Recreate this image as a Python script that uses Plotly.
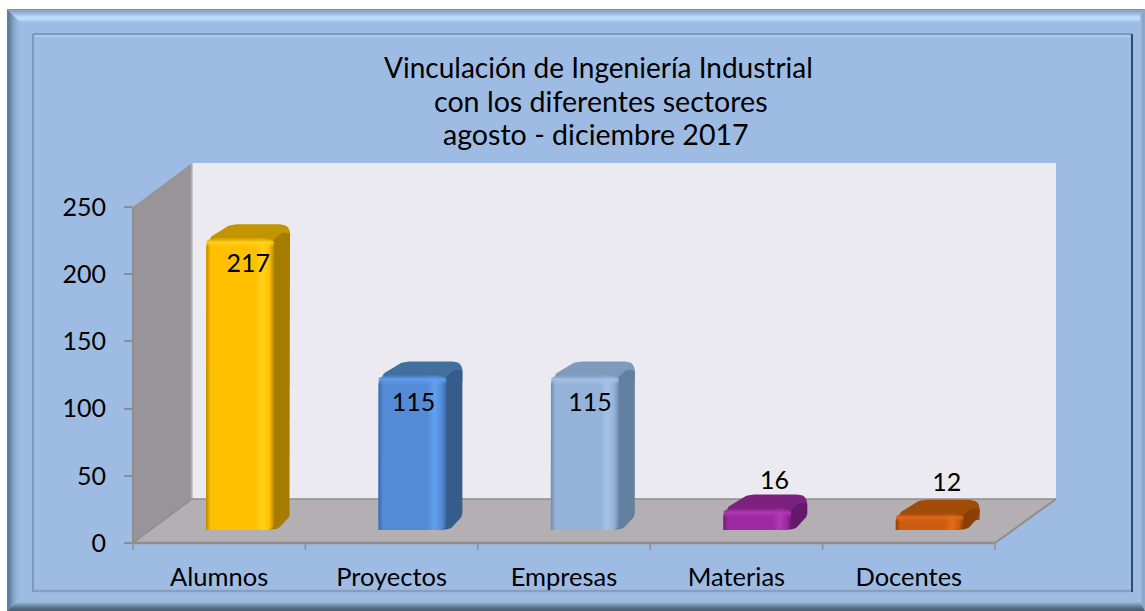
import plotly.graph_objects as go

CATEGORIES = ["Alumnos", "Proyectos", "Empresas", "Materias", "Docentes"]
VALUES = [217, 115, 115, 16, 12]
Y_TICKS = [0, 50, 100, 150, 200, 250]
TITLE_LINES = ["Vinculación de Ingeniería Industrial", "con los diferentes sectores", "agosto - diciembre 2017"]
TITLE_POS = [(598, 67, 28), (601, 101, 28.6), (596, 134, 28.6)]
FRONT = ["#FFC000", "#548BD7", "#95B3D9", "#9C2AA0", "#CC5C10"]
HILITE = ["#FFD21A", "#63A0EE", "#A5C2E6", "#B338B8", "#E26C18"]
SHADE = ["#B88A00", "#3A6AA6", "#6E8BB0", "#701C75", "#8F4008"]
TOPFACE = ["#C29500", "#41709F", "#7E9ABD", "#7C2180", "#A04B08"]
SIDEFACE = ["#A67C00", "#365C8B", "#64809F", "#641A68", "#8A3F05"]
LABEL_DX = [29, 22, 26, 38, 38]
LABEL_DY = [-27, -29, -29, 26, 29]

W, H = 1145, 611
PL, PR, PT, PB = 133, 1056, 163, 543   # plot area in pixels
CAT_PX = 172.4
UNIT_PX = 1.344
BASE_PX = 13
BAR_LEFT = 73
BAR_W = 68
DX, DY = 16, 14


def xpx(p):
    return -0.5 + (p - PL) / CAT_PX


def xp(p):
    return p / W


def yp(p):
    return 1 - p / H


def rounded(points):
    """points: (x_px, y_px, radius) with y measured upward; returns smoothed outline."""
    out = []
    n = len(points)
    for k, (x, y, r) in enumerate(points):
        if r == 0:
            out.append((x, y))
            continue
        px, py, _ = points[k - 1]
        nx, ny, _ = points[(k + 1) % n]
        d1 = max(((px - x) ** 2 + (py - y) ** 2) ** 0.5, 1e-6)
        d2 = max(((nx - x) ** 2 + (ny - y) ** 2) ** 0.5, 1e-6)
        a = (x + (px - x) * min(r, d1 / 2) / d1, y + (py - y) * min(r, d1 / 2) / d1)
        b = (x + (nx - x) * min(r, d2 / 2) / d2, y + (ny - y) * min(r, d2 / 2) / d2)
        for s in range(7):
            t = s / 6
            out.append(((1 - t) ** 2 * a[0] + 2 * t * (1 - t) * x + t * t * b[0],
                        (1 - t) ** 2 * a[1] + 2 * t * (1 - t) * y + t * t * b[1]))
    out.append(out[0])
    return out


def poly(points, color=None, gradient=None):
    pts = rounded(points)
    kw = dict(x=[xpx(p[0]) for p in pts], y=[p[1] / UNIT_PX for p in pts], mode="lines",
              line=dict(width=0, color="rgba(0,0,0,0)"), fill="toself", hoverinfo="skip", showlegend=False)
    if gradient:
        kw["fillgradient"] = gradient
    else:
        kw["fillcolor"] = color
    return go.Scatter(**kw)


def rgba(h, a):
    return f"rgba({int(h[1:3],16)},{int(h[3:5],16)},{int(h[5:7],16)},{a})"


fig = go.Figure()

# front faces
fig.add_trace(go.Bar(
    x=list(range(5)), y=VALUES, base=BASE_PX / UNIT_PX, width=BAR_W / CAT_PX,
    offset=[(BAR_LEFT - CAT_PX / 2) / CAT_PX] * 5,
    marker=dict(color=FRONT, line=dict(width=0), cornerradius=10),
    showlegend=False, hoverinfo="skip"))

# extruded top / side and bevel shading, all derived from the values
for i, v in enumerate(VALUES):
    L = PL + i * CAT_PX + BAR_LEFT
    R = L + BAR_W
    B = BASE_PX
    T = B + v * UNIT_PX
    fig.add_trace(poly([(L + 1, T - 1, 7), (L + 24, T + DY, 7), (R + DX, T + DY, 10), (R + DX, T - 6, 0), (R - 3, T - 9, 0)], TOPFACE[i]))
    fig.add_trace(poly([(R - 4, T - 5, 3), (R + 8, T + 6, 3), (R + DX, T + 5, 0), (R + DX, B + DY, 3), (R + 4, B + 1, 3), (R - 8, B, 0)], SIDEFACE[i]))
    fig.add_trace(poly(
        [(L, B, 0), (L, T, 10), (R, T, 10), (R, B, 7)],
        gradient=dict(type="horizontal", colorscale=[
            [0, SHADE[i]], [0.07, FRONT[i]], [0.72, FRONT[i]], [0.83, HILITE[i]],
            [0.93, FRONT[i]], [1, SHADE[i]]])))
    h = min(9, (T - B) / 2)
    fig.add_trace(poly(
        [(L, T - h, 0), (L, T, 10), (R, T, 10), (R, T - h, 0)],
        gradient=dict(type="vertical", colorscale=[
            [0, rgba(HILITE[i], 0)], [0.6, rgba(HILITE[i], 0.9)], [1, rgba(SHADE[i], 0.55)]])))

# value labels
fig.add_trace(go.Scatter(
    x=[i + LABEL_DX[i] / CAT_PX for i in range(5)],
    y=[v + (BASE_PX + LABEL_DY[i]) / UNIT_PX for i, v in enumerate(VALUES)],
    mode="text", text=[str(v) for v in VALUES], textposition="middle center",
    textfont=dict(family="Lato", size=25, color="#000000"), hoverinfo="skip", showlegend=False))

shapes = []


def path(pts, fill, line=None, lw=0, layer="below"):
    d = "M " + " L ".join(f"{xp(x):.5f},{yp(y):.5f}" for x, y in pts) + " Z"
    shapes.append(dict(type="path", xref="paper", yref="paper", path=d, fillcolor=fill, layer=layer,
                       line=dict(width=lw, color=line or "rgba(0,0,0,0)")))


def seg(x0, y0, x1, y1, color, w=2):
    shapes.append(dict(type="line", xref="paper", yref="paper", x0=xp(x0), y0=yp(y0), x1=xp(x1), y1=yp(y1),
                       line=dict(color=color, width=w), layer="below"))


# outer frame
OX0, OY0, OX1, OY1 = 7, 9, 1145, 611
path([(OX0, OY0), (OX1, OY0), (OX1, OY1), (OX0, OY1)], "#9EBCE3")
LEFT = ["#7D7D80", "#5F7E9F", "#64839F", "#6B8BAD", "#7492B5", "#7C9ABE", "#83A2C6", "#89A9CE",
        "#8EAFD4", "#92B3D9", "#96B7DC", "#99B9DF", "#9BBBE1", "#9CBBE2", "#9DBCE3", "#9EBCE3"]
TOP = ["#8C8C8C", "#8FA4BF", "#8DA8CA", "#93AFD3", "#9BB8DC", "#A5C2E6", "#AFCBEF", "#B8D4F6",
       "#BEDAFB", "#C0DCFC", "#BAD6F7", "#B0CCEE", "#A8C4E8", "#A2BFE5", "#9FBDE3", "#9EBCE3"]
BOT = ["#9EBCE3", "#95B1D6", "#8AA5C8", "#7F99BA", "#738CAB", "#67809C", "#5C748E", "#546B84", "#4F657D", "#4C6279"]
RIGHT = ["#9EBCE3", "#93AFD4", "#8CA7CB", "#8CA6C9", "#8FA9CC"]
for k, c in enumerate(LEFT):
    path([(OX0 + k, OY0 + k), (OX0 + k + 1, OY0 + k + 1), (OX0 + k + 1, OY1 - min(k + 1, 10)), (OX0 + k, OY1 - min(k, 10))], c)
for k, c in enumerate(TOP):
    path([(OX0 + k, OY0 + k), (OX1 - min(k, 5), OY0 + k), (OX1 - min(k + 1, 5), OY0 + k + 1), (OX0 + k + 1, OY0 + k + 1)], c)
for k, c in enumerate(reversed(BOT)):
    path([(OX0 + k, OY1 - k), (OX1 - k / 2, OY1 - k), (OX1 - (k + 1) / 2, OY1 - k - 1), (OX0 + k + 1, OY1 - k - 1)], c)
for k, c in enumerate(reversed(RIGHT)):
    path([(OX1 - k, OY0 + k), (OX1 - k, OY1 - 2 * k), (OX1 - k - 1, OY1 - 2 * k - 2), (OX1 - k - 1, OY0 + k + 1)], c)

# inner panel edges
seg(33, 34, 33, 592, "#6F8DB1", 1.5)
seg(33, 34, 1132, 34, "#6F8DB1", 1.5)
seg(34.5, 36, 1130, 36, "#B4CFF1", 1.5)
seg(33, 591, 1132, 591, "#8A9EBB", 2.5)
seg(1132, 34, 1132, 592, "#2F4A70", 2)

# 3-D chart box
FX1 = PL + 5 * CAT_PX
BX = PL + 59
BY = PB - 44
path([(BX, PT), (PR, PT), (PR, BY), (BX, BY)], "#ECEAF1")
path([(PL, 207), (BX, PT), (BX, BY), (PL, PB)], "#989499")
path([(PL, PB), (BX, BY), (PR, BY), (FX1, PB)], "#B3AFB3")
seg(BX, PT, BX, BY, "#B9B9BC", 1.5)
seg(BX, BY, PR, BY, "#8E8E8E", 1.5)
seg(PL, PB, BX, BY, "#8E8E8E", 1.5)
seg(PL, 207, PL, PB, "#8E8E8E", 2)
seg(PL, PB, FX1, PB, "#8E8E8E", 2.5)
seg(FX1, PB, PR, BY, "#8E8E8E", 2)
for k in range(6):
    seg(PL + k * CAT_PX, PB, PL + k * CAT_PX, PB + 7, "#8E8E8E", 1.5)

annotations = [
    dict(text=t, xref="paper", yref="paper", x=p[0] / W, y=yp(p[1]), xanchor="center", yanchor="middle",
         showarrow=False, font=dict(family="Lato", size=p[2], color="#000000"))
    for t, p in zip(TITLE_LINES, TITLE_POS)
]

fig.update_layout(
    width=W, height=H, margin=dict(l=0, r=0, t=0, b=0), paper_bgcolor="#FFFFFF", plot_bgcolor="rgba(0,0,0,0)",
    barmode="overlay", shapes=shapes, annotations=annotations,
    font=dict(family="Lato", color="#000000"),
    xaxis=dict(domain=[PL / W, PR / W], range=[-0.5, xpx(PR)], tickvals=list(range(5)), ticktext=CATEGORIES,
               automargin=False, showgrid=False, zeroline=False, showline=False, ticks="", ticklabelstandoff=16,
               tickfont=dict(family="Lato", size=25.5, color="#000000")),
    yaxis=dict(domain=[1 - PB / H, 1 - PT / H], range=[0, (PB - PT) / UNIT_PX], tickvals=Y_TICKS,
               automargin=False, showgrid=False, zeroline=False, showline=False, ticks="outside", ticklen=8, tickwidth=1.5,
               tickcolor="#8E8E8E", ticklabelstandoff=13,
               tickfont=dict(family="Lato", size=25, color="#000000")),
)

fig.write_html("out.html", config=dict(displayModeBar=False),
               post_script="document.body.style.margin='0';document.body.style.overflow='hidden';")
